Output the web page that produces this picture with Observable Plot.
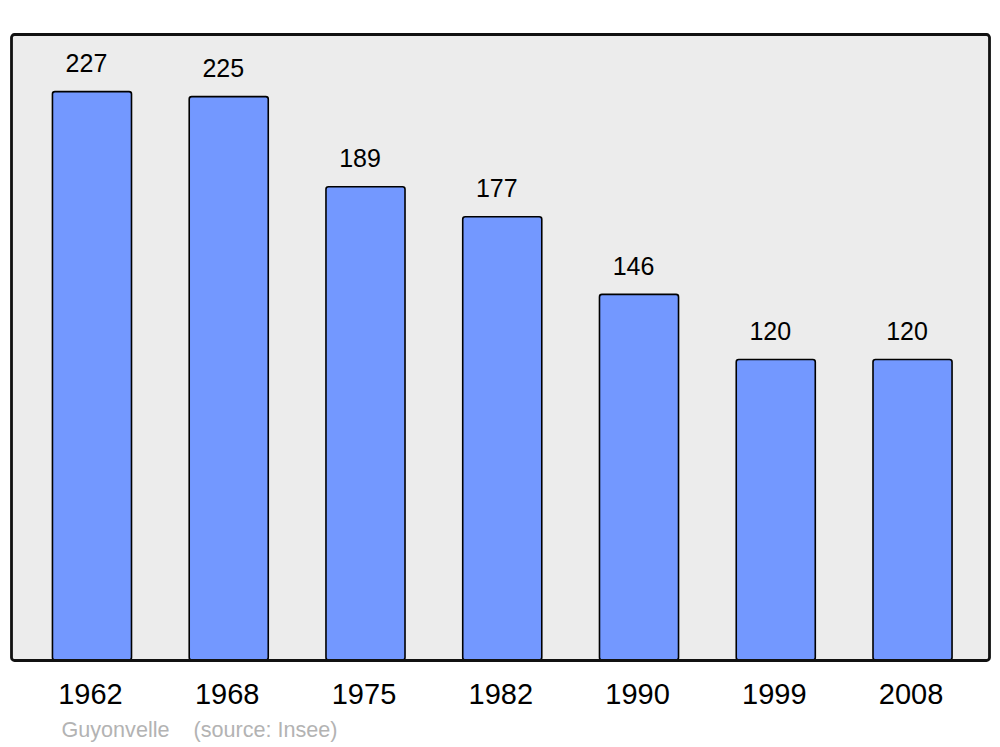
<!DOCTYPE html>
<html>
<head>
<meta charset="utf-8">
<script src="https://cdn.jsdelivr.net/npm/d3@7"></script>
<script src="https://cdn.jsdelivr.net/npm/@observablehq/plot@0.6"></script>
<style>
  html, body { margin: 0; padding: 0; background: #ffffff; }
  #chart svg { display: block; }
</style>
</head>
<body>
<div id="chart"></div>
<script>
const years = ["1962", "1968", "1975", "1982", "1990", "1999", "2008"];
const population = [227, 225, 189, 177, 146, 120, 120];
const commune = "Guyonvelle";
const source = "(source: Insee)";

const data = years.map((year, i) => ({year, value: population[i]}));

const font = "Liberation Sans, Arial, Helvetica, sans-serif";

const chart = Plot.plot({
  width: 1000,
  height: 747,
  marginTop: 34,
  marginBottom: 87,
  marginLeft: 11,
  marginRight: 11,
  style: {fontFamily: font, background: "#ffffff", overflow: "visible"},
  x: {domain: years, range: [23.6, 980.9], paddingInner: 0.422, paddingOuter: 0.211, round: false, label: null},
  y: {domain: [0, 250], axis: null, label: null},
  marks: [
    Plot.frame({fill: "#ececec", stroke: "none"}),
    Plot.barY(data, {x: "year", y: "value", fill: "#7398ff", stroke: "#000000", strokeWidth: 1.6, rx: 2.5}),
    Plot.text(data, {x: "year", y: "value", text: d => String(d.value), dy: -28, dx: -6, fontSize: 25, fill: "#000000", lineAnchor: "middle"}),
    Plot.axisX({tickSize: 0, tickPadding: 23, fontSize: 29, dx: -2, fill: "#000000", label: null}),
    Plot.frame({fill: "none", stroke: "#111111", strokeWidth: 2.8, rx: 3}),
    Plot.text([commune], {text: d => d, frameAnchor: "bottom-left", dx: 50, dy: 70, lineAnchor: "middle", textAnchor: "start", fontSize: 21.6, fill: "#b3b3b3"}),
    Plot.text([source], {text: d => d, frameAnchor: "bottom-left", dx: 182, dy: 70, lineAnchor: "middle", textAnchor: "start", fontSize: 21.6, fill: "#b3b3b3"})
  ]
});
document.getElementById("chart").appendChild(chart);
</script>
</body>
</html>
